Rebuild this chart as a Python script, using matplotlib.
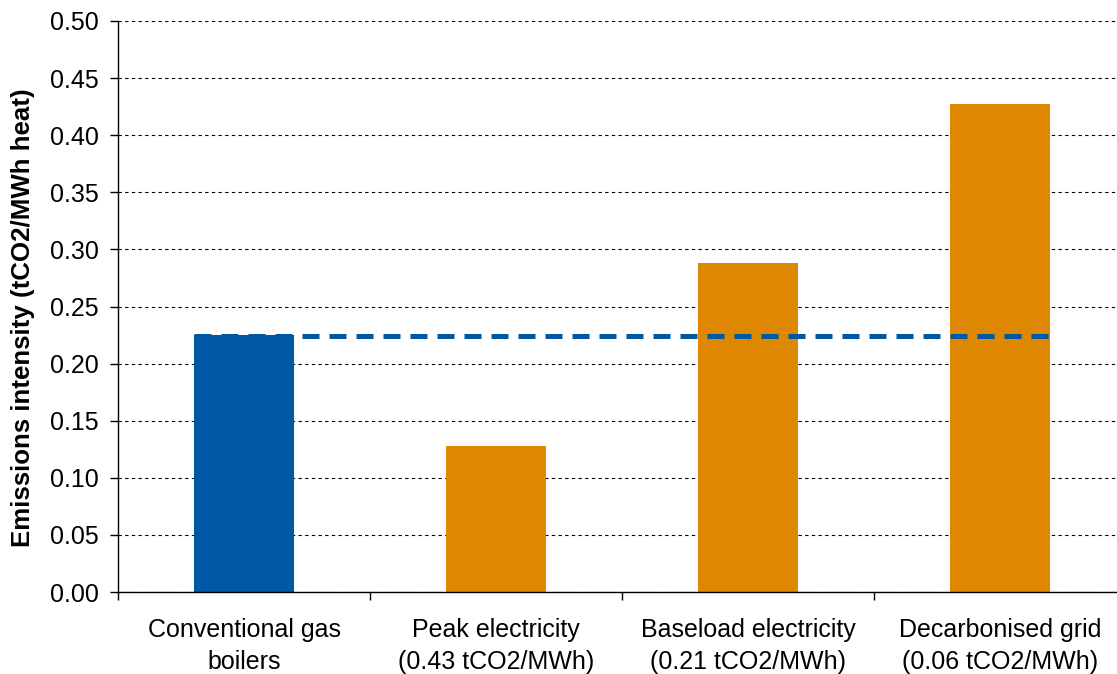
import matplotlib
matplotlib.use("Agg")
import matplotlib.pyplot as plt
import numpy as np

categories = [
    "Conventional gas\nboilers",
    "Peak electricity\n(0.43 tCO2/MWh)",
    "Baseload electricity\n(0.21 tCO2/MWh)",
    "Decarbonised grid\n(0.06 tCO2/MWh)",
]
intensity = [0.225, 0.128, 0.288, 0.427]
bar_colors = ["#0057A4", "#DE8700", "#DE8700", "#DE8700"]
gas_reference = 0.224
yticks = [0.00, 0.05, 0.10, 0.15, 0.20, 0.25, 0.30, 0.35, 0.40, 0.45, 0.50]

plt.rcParams["font.family"] = ["Liberation Sans", "DejaVu Sans"]

fig = plt.figure(figsize=(11.17, 6.74), dpi=100)
ax = fig.add_axes([118 / 1117, 1 - 592 / 674, 1008 / 1117, 571 / 674])

x = np.arange(len(categories))
bar_w = 0.397
ax.bar(x, intensity, width=bar_w, color=bar_colors, zorder=2)

# dashed line marking the gas boiler level across all options
ax.plot([x[0] - bar_w / 2, x[-1] + bar_w / 2], [gas_reference, gas_reference],
        color="#0057A4", lw=3.6, dashes=(3.4, 2.0), zorder=3, solid_capstyle="butt")

ax.set_xlim(-0.5, len(categories) - 0.5)
ax.set_ylim(0, 0.5)
ax.set_yticks(yticks)
ax.set_yticklabels([f"{v:.2f}" for v in yticks], fontsize=18)
ax.yaxis.grid(True, color="black", lw=0.8, dashes=(3, 3))
ax.set_axisbelow(True)

ax.set_xticks(x)
ax.set_xticklabels(categories, fontsize=18, linespacing=1.4)
ax.set_xticks(np.arange(-0.5, len(categories), 1.0), minor=True)
ax.tick_params(axis="x", which="major", length=0, pad=19)
ax.tick_params(axis="x", which="minor", length=6, width=1, direction="out")
ax.tick_params(axis="y", length=6, width=1, direction="out", pad=8)

for side in ["top", "right"]:
    ax.spines[side].set_visible(False)
ax.spines["left"].set_linewidth(1)
ax.spines["bottom"].set_linewidth(1)

ax.set_ylabel("Emissions intensity (tCO2/MWh heat)", fontsize=18.6,
              fontweight="bold", labelpad=11)
ax.yaxis.set_label_coords(-0.082, 0.48)

fig.savefig("out.png", dpi=100)
